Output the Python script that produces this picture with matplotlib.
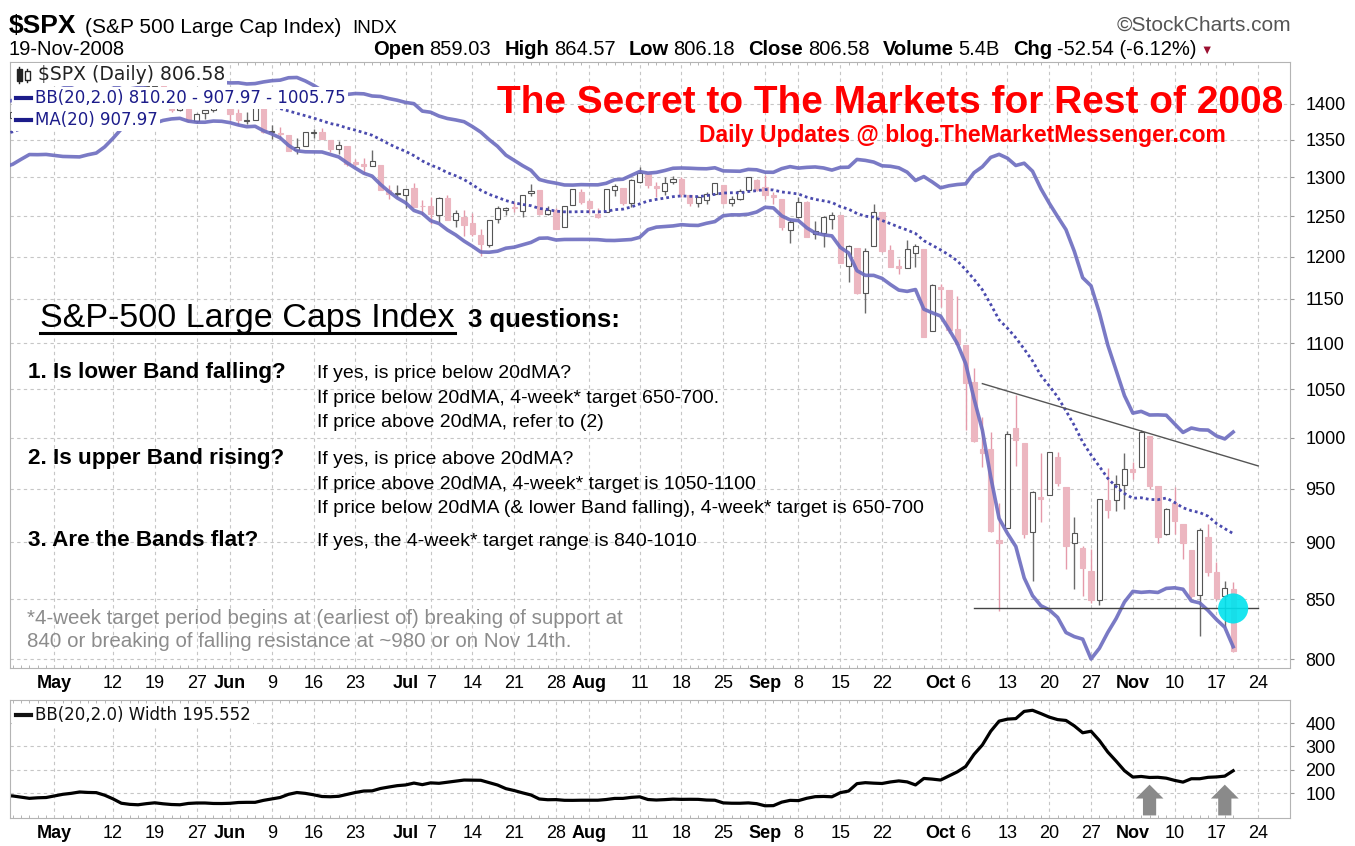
import numpy as np
import pandas as pd
import matplotlib
matplotlib.use("Agg")
import matplotlib.pyplot as plt
import matplotlib.ticker as mticker
from matplotlib.lines import Line2D
from matplotlib.patches import Rectangle

plt.rcParams["font.family"] = ["Liberation Sans", "DejaVu Sans"]

# $SPX daily closes, 24-Mar-2008 .. 19-Nov-2008 (needed for the 20-day bands)
holidays = ["2008-05-26", "2008-07-04", "2008-09-01", "2008-11-27"]
closes = [
    1349.88, 1352.99, 1341.13, 1325.76, 1315.22,
    1322.70, 1370.18, 1367.53, 1369.31, 1370.40,
    1372.54, 1365.54, 1354.49, 1360.55, 1332.83,
    1328.32, 1334.43, 1364.71, 1365.56, 1390.33,
    1388.17, 1375.94, 1379.93, 1388.82, 1397.84,
    1396.37, 1390.94, 1385.59, 1409.34, 1413.90,
    1407.49, 1418.26, 1392.57, 1397.68, 1388.28,
    1403.58, 1403.04, 1408.66, 1423.57, 1425.35,
    1426.63, 1413.40, 1390.71, 1394.35, 1375.93,
    1385.35, 1390.84, 1398.26, 1400.38,
    1385.67, 1377.65, 1377.20, 1404.05, 1360.68,
    1361.76, 1358.44, 1335.49, 1339.87, 1360.03,
    1360.14, 1350.93, 1337.81, 1342.83, 1317.93,
    1318.00, 1314.29, 1321.97, 1283.15, 1278.38,
    1280.00, 1284.91, 1261.52, 1262.90,
    1252.31, 1273.70, 1244.69, 1253.39, 1239.49,
    1228.30, 1214.91, 1245.36, 1260.32, 1260.68,
    1260.00, 1277.00, 1282.19, 1252.54, 1257.76,
    1234.37, 1263.20, 1284.26, 1267.38, 1260.31,
    1249.01, 1284.88, 1289.19, 1266.07, 1296.32,
    1305.32, 1289.59, 1285.83, 1292.93, 1298.20,
    1278.60, 1266.69, 1274.54, 1277.72, 1292.20,
    1266.84, 1271.51, 1281.66, 1300.68, 1282.83,
    1277.58, 1274.98, 1236.83, 1242.31,
    1267.79, 1224.51, 1232.04, 1249.05, 1251.70,
    1192.70, 1213.60, 1156.39, 1206.51, 1255.08,
    1207.09, 1188.22, 1185.87, 1209.18, 1213.27,
    1106.42, 1166.36, 1161.06, 1114.28, 1099.23,
    1056.89, 996.23, 984.94, 909.92, 899.22,
    1003.35, 998.01, 907.84, 946.43, 940.55,
    985.40, 955.05, 896.78, 908.11, 876.77,
    848.92, 940.51, 930.09, 954.09, 968.75,
    966.30, 1005.75, 952.77, 904.88, 930.99,
    919.21, 898.95, 852.30, 911.29, 873.29,
    850.75, 859.12, 806.58,
]

# candles shown from 24-Apr-2008
first_bar = "2008-04-24"
opens = [
    1380.5, 1388.8,
    1397.9, 1395.6, 1391.2, 1385.1, 1409.2,
    1415.3, 1405.6, 1417.5, 1394.3, 1394.9,
    1389.4, 1404.4, 1405.7, 1408.4, 1423.9,
    1425.3, 1424.5, 1414.1, 1390.8, 1392.2,
    1376.0, 1386.5, 1390.5, 1398.4,
    1399.6, 1386.4, 1376.3, 1377.5, 1400.1,
    1360.8, 1359.0, 1357.1, 1335.8, 1341.8,
    1358.9, 1360.7, 1349.6, 1336.9, 1341.0,
    1319.8, 1317.2, 1314.5, 1316.3, 1283.6,
    1278.1, 1276.7, 1285.8, 1263.0,
    1262.9, 1251.8, 1273.4, 1245.3, 1248.7,
    1241.6, 1226.8, 1214.7, 1246.3, 1258.2,
    1261.8, 1257.1, 1278.9, 1283.2, 1253.1,
    1257.8, 1236.4, 1264.5, 1281.4, 1269.4,
    1253.3, 1254.9, 1284.0, 1286.5, 1266.3,
    1294.4, 1304.8, 1288.6, 1282.1, 1293.9,
    1298.1, 1276.7, 1267.3, 1271.1, 1277.6,
    1290.5, 1267.0, 1271.3, 1283.8, 1296.5,
    1287.8, 1276.6, 1271.8, 1233.2,
    1249.5, 1268.0, 1227.5, 1229.0, 1245.9,
    1250.9, 1188.3, 1210.3, 1157.1, 1213.1,
    1255.4, 1207.6, 1188.8, 1186.7, 1204.5,
    1209.1, 1113.8, 1164.2, 1160.6, 1115.2,
    1097.6, 1057.6, 988.9, 988.4, 902.3,
    912.8, 1010.0, 994.6, 909.5, 942.3,
    943.5, 980.4, 951.7, 899.1, 895.2,
    874.3, 848.9, 939.5, 939.4, 953.1,
    968.7, 971.3, 1001.8, 952.4, 907.4,
    936.8, 917.2, 893.4, 853.1, 904.4,
    873.2, 852.3, 859.03,
]
highs = [
    1397.7, 1399.1,
    1402.9, 1397.0, 1404.6, 1410.1, 1422.7,
    1415.3, 1421.6, 1419.5, 1402.4, 1394.9,
    1404.1, 1406.3, 1420.2, 1424.4, 1425.8,
    1440.2, 1424.5, 1419.1, 1399.1, 1392.2,
    1387.4, 1391.7, 1406.3, 1404.5,
    1399.6, 1393.1, 1388.2, 1405.1, 1400.1,
    1370.6, 1366.8, 1357.1, 1353.0, 1360.0,
    1364.7, 1366.6, 1349.6, 1347.7, 1341.0,
    1323.8, 1326.0, 1335.6, 1316.3, 1289.5,
    1290.3, 1285.3, 1292.2, 1271.0,
    1273.9, 1274.2, 1277.4, 1257.7, 1257.6,
    1253.5, 1234.4, 1245.5, 1262.3, 1262.2,
    1267.7, 1277.4, 1291.2, 1283.2, 1263.2,
    1260.1, 1263.2, 1284.3, 1284.9, 1270.5,
    1260.5, 1284.9, 1291.7, 1286.5, 1297.9,
    1313.2, 1304.8, 1294.0, 1300.1, 1302.1,
    1300.2, 1276.7, 1276.0, 1281.2, 1293.1,
    1290.5, 1275.7, 1285.1, 1300.7, 1297.6,
    1303.0, 1280.6, 1271.8, 1244.9,
    1274.4, 1268.7, 1243.9, 1250.0, 1255.1,
    1250.9, 1214.8, 1210.3, 1211.1, 1265.1,
    1255.4, 1214.8, 1197.4, 1220.0, 1215.8,
    1209.1, 1168.0, 1167.0, 1160.6, 1153.8,
    1097.6, 1072.9, 1021.1, 1005.3, 936.4,
    1006.9, 1044.3, 994.6, 947.7, 984.6,
    985.4, 985.4, 951.7, 922.8, 896.3,
    893.8, 940.5, 970.0, 963.2, 984.4,
    975.5, 1007.5, 1001.8, 952.4, 931.5,
    951.9, 917.2, 893.4, 913.0, 916.9,
    882.3, 865.9, 864.57,
]
lows = [
    1371.1, 1379.9,
    1394.4, 1386.7, 1384.3, 1383.1, 1406.3,
    1404.4, 1397.1, 1391.2, 1389.4, 1384.1,
    1386.2, 1396.3, 1405.7, 1406.9, 1414.4,
    1421.6, 1409.1, 1388.8, 1390.2, 1373.7,
    1373.1, 1378.8, 1388.6, 1398.1,
    1377.8, 1370.1, 1371.7, 1377.5, 1359.9,
    1350.7, 1351.6, 1335.5, 1331.3, 1341.7,
    1352.1, 1350.5, 1333.4, 1330.4, 1314.5,
    1315.3, 1304.4, 1314.5, 1283.1, 1272.0,
    1274.9, 1260.7, 1261.5, 1252.0,
    1240.7, 1242.8, 1244.6, 1236.8, 1225.4,
    1225.0, 1200.4, 1211.4, 1241.4, 1251.8,
    1255.5, 1248.8, 1276.1, 1251.5, 1251.8,
    1234.4, 1236.4, 1264.5, 1265.1, 1254.5,
    1247.5, 1254.7, 1276.0, 1264.3, 1262.1,
    1292.8, 1285.6, 1274.9, 1276.8, 1290.7,
    1274.5, 1263.1, 1261.2, 1265.2, 1277.6,
    1264.9, 1263.2, 1270.0, 1283.8, 1282.7,
    1272.2, 1265.6, 1232.8, 1217.2,
    1247.1, 1224.5, 1221.6, 1211.5, 1233.8,
    1192.7, 1169.3, 1155.9, 1133.5, 1213.1,
    1205.6, 1187.2, 1179.8, 1186.7, 1187.5,
    1106.4, 1113.8, 1140.8, 1111.4, 1098.1,
    1008.0, 996.2, 971.0, 909.2, 839.8,
    912.8, 972.1, 904.0, 865.8, 918.7,
    943.5, 952.5, 875.8, 858.4, 852.9,
    846.8, 845.3, 922.3, 928.5, 930.6,
    958.8, 971.3, 949.9, 899.7, 906.9,
    907.5, 884.9, 850.5, 818.7, 869.9,
    849.0, 826.8, 806.18,
]

tick_dates = ["2008-05-01", "2008-05-12", "2008-05-19", "2008-05-27",
              "2008-06-02", "2008-06-09", "2008-06-16", "2008-06-23",
              "2008-07-01", "2008-07-07", "2008-07-14", "2008-07-21", "2008-07-28",
              "2008-08-01", "2008-08-11", "2008-08-18", "2008-08-25",
              "2008-09-02", "2008-09-08", "2008-09-15", "2008-09-22",
              "2008-10-01", "2008-10-06", "2008-10-13", "2008-10-20", "2008-10-27",
              "2008-11-03", "2008-11-10", "2008-11-17", "2008-11-24"]
tick_labels = ["May", "12", "19", "27", "Jun", "9", "16", "23",
               "Jul", "7", "14", "21", "28", "Aug", "11", "18", "25",
               "Sep", "8", "15", "22", "Oct", "6", "13", "20", "27",
               "Nov", "10", "17", "24"]
month_labels = ["May", "Jun", "Jul", "Aug", "Sep", "Oct", "Nov"]
price_ticks = [800, 850, 900, 950, 1000, 1050, 1100, 1150, 1200, 1250, 1300, 1350, 1400]
width_ticks = [100, 200, 300, 400]

# hand-drawn annotations
support_level = 842
support_dates = ["2008-10-07", "2008-11-24"]
resistance_dates = ["2008-10-08", "2008-11-24"]
resistance_values = [1056, 972]
circle_date, circle_value = "2008-11-19", 842
arrow_dates = ["2008-11-05", "2008-11-18"]

# trading-day calendar used as the x axis
cal = pd.bdate_range("2008-03-24", "2008-11-28")
cal = cal[~cal.isin(pd.to_datetime(holidays))]
day = {d.strftime("%Y-%m-%d"): k for k, d in enumerate(cal)}

cl = pd.Series(closes)
mid = cl.rolling(20).mean()
sd = cl.rolling(20).std(ddof=0)
upper = mid + 2 * sd
lower = mid - 2 * sd
bbw = upper - lower
xs = np.arange(len(closes))

W, H = 1355, 846
fig = plt.figure(figsize=(W / 100, H / 100), dpi=100)
ax = fig.add_axes([10 / W, 1 - 668 / H, 1280 / W, 606 / H])
ax2 = fig.add_axes([10 / W, 1 - 818 / H, 1280 / W, 118 / H])

# candles
bx = np.arange(day[first_bar], len(closes))
o = np.array(opens)
c = np.array(closes)[bx]
hi = np.array(highs)
lo = np.array(lows)
up = c >= o
pink = "#ecb6c0"
ax.vlines(bx, lo, hi, colors=np.where(up, "#6a6a6a", "#e59aaa"), lw=1, zorder=2)
ax.bar(bx, np.maximum(np.abs(c - o), 0.6), bottom=np.minimum(o, c), width=0.62,
       color=np.where(up, "white", pink), edgecolor=np.where(up, "#555555", pink),
       lw=0.8, zorder=3)

band = "#6c6cbf"
ax.plot(xs, upper, color=band, lw=2.6, alpha=0.9, zorder=4)
ax.plot(xs, lower, color=band, lw=2.6, alpha=0.9, zorder=4)
ax.plot(xs, mid, color="#4a4aae", lw=2, ls=(0, (1, 1.1)), zorder=4)

ax.plot([day[d] for d in support_dates], [support_level] * 2, color="#444444", lw=1, zorder=5)
ax.plot([day[d] for d in resistance_dates], resistance_values, color="#555555", lw=1, zorder=5)
ax.scatter([day[circle_date]], [circle_value], s=470, color="#00e3ee", alpha=0.9,
           edgecolors="none", zorder=6)

ax.set_yscale("log")
ax.set_ylim(793, 1460)
ax.set_yticks(price_ticks)
ax.set_yticklabels([str(v) for v in price_ticks])
ax.yaxis.set_minor_locator(mticker.NullLocator())

# width panel
ax2.plot(xs, bbw, color="black", lw=2.3)
ax2.set_ylim(-7, 499)
ax2.set_yticks(width_ticks)
ax2.set_yticklabels([str(v) for v in width_ticks])
for d in arrow_dates:
    ax2.annotate("", xy=(day[d], 136), xytext=(day[d], 4),
                 arrowprops=dict(arrowstyle="simple,head_length=1.0,head_width=2.0,tail_width=0.95",
                                 color="#8a8a8a", lw=0, shrinkA=0, shrinkB=0, mutation_scale=10))

for a in (ax, ax2):
    a.set_xticks([day[d] for d in tick_dates])
    a.set_xticklabels(tick_labels)
    a.set_xticks(xs, minor=True)
    a.set_xlim(22.68, 175.8)
    for lab in a.get_xticklabels():
        lab.set_fontsize(13)
        if lab.get_text() in month_labels:
            lab.set_fontweight("bold")
    a.yaxis.tick_right()
    a.tick_params(axis="y", length=3, pad=8, labelsize=13, color="#999999")
    a.tick_params(axis="x", which="major", length=0, pad=5)
    a.tick_params(axis="x", which="minor", length=2, direction="in", color="#aaaaaa",
                  top=True, bottom=True)
    a.grid(True, which="major", color="#c6c6c6", ls=(0, (3, 3)), lw=0.8)
    a.set_axisbelow(True)
    for s in a.spines.values():
        s.set_color("#b4b4b4")


def ftext(x, y, s, **kw):
    kw.setdefault("va", "baseline")
    return fig.text(x / W, 1 - y / H, s, **kw)


def fline(x0, x1, y, color, lw=3):
    fig.add_artist(Line2D([x0 / W, x1 / W], [1 - y / H] * 2, color=color, lw=lw, zorder=6))


# header
ftext(9, 33, "$SPX", size=19, weight="bold")
ftext(85, 33, "(S&P 500 Large Cap Index)", size=15)
ftext(352, 33, "INDX", size=13.5)
ftext(1291, 31, "\u00a9StockCharts.com", size=15, color="#555555", ha="right")
ftext(9, 55, "19-Nov-2008", size=14.5)

renderer = fig.canvas.get_renderer()
hx = 373
header = [("Open", True), ("859.03", False), ("High", True), ("864.57", False),
          ("Low", True), ("806.18", False), ("Close", True), ("806.58", False),
          ("Volume", True), ("5.4B", False), ("Chg", True), ("-52.54 (-6.12%)", False)]
for k, (s, bold) in enumerate(header):
    t = ftext(hx, 55, s, size=14.5, weight="bold" if bold else "normal")
    hx = t.get_window_extent(renderer).x1 + (5 if bold else 13)
ftext(hx - 9, 54, "\u25bc", size=9, color="#9b1030")

# chart legends (white boxes hide what lies beneath them)
lg = dict(family="DejaVu Sans",
          bbox=dict(facecolor="white", edgecolor="none", pad=1.5), zorder=5)
ftext(14, 80, "    $SPX (Daily) 806.58", color="#222222", size=13.5, **lg)
ftext(14, 103, "    BB(20,2.0) 810.20 - 907.97 - 1005.75", color="#1c1c8a", size=12, **lg)
ftext(14, 125, "    MA(20) 907.97", color="#1c1c8a", size=12, **lg)
ftext(14, 720, "    BB(20,2.0) Width 195.552", color="#111111", size=12, **lg)
fline(16, 31, 98, "#1c1c8a")
fline(16, 31, 120, "#1c1c8a")
fline(16, 31, 715, "#111111")
for cx, y0, y1, fill in [(19, 69, 81, "#222222"), (27, 71, 80, "white")]:
    fig.add_artist(Line2D([cx / W] * 2, [1 - (y0 - 2) / H, 1 - (y1 + 2) / H],
                          color="#222222", lw=1, zorder=6))
    fig.add_artist(Rectangle(((cx - 2.5) / W, 1 - y1 / H), 5 / W, (y1 - y0) / H,
                             facecolor=fill, edgecolor="#222222", lw=1, zorder=7))

# annotations by the chart author
ftext(1283, 113, "The Secret to The Markets for Rest of 2008", size=28,
      weight="bold", color="red", ha="right")
ftext(1226, 142, "Daily Updates @ blog.TheMarketMessenger.com", size=16.5,
      weight="bold", color="red", ha="right")
ftext(40, 327, "S&P-500 Large Caps Index", size=24.5)
fline(40, 455, 333, "black", lw=2.2)
ftext(468, 327, "3 questions:", size=18.5, weight="bold")

questions = ["1. Is lower Band falling?", "2. Is upper Band rising?", "3. Are the Bands flat?"]
q_y = [378, 464, 546]
answers = [["If yes, is price below 20dMA?",
            "If price below 20dMA, 4-week* target 650-700.",
            "If price above 20dMA, refer to (2)"],
           ["If yes, is price above 20dMA?",
            "If price above 20dMA, 4-week* target is 1050-1100",
            "If price below 20dMA (& lower Band falling), 4-week* target is 650-700"],
           ["If yes, the 4-week* target range is 840-1010"]]
for q, y, ans in zip(questions, q_y, answers):
    ftext(28, y, q, size=16.2, weight="bold")
    for j, a in enumerate(ans):
        ftext(317, y + 24.5 * j, a, size=14)

ftext(27, 624, "*4-week target period begins at (earliest of) breaking of support at",
      size=14.8, color="#8c8c8c")
ftext(27, 647, "840 or breaking of falling resistance at ~980 or on Nov 14th.",
      size=14.8, color="#8c8c8c")

fig.savefig("out.png", dpi=100)
